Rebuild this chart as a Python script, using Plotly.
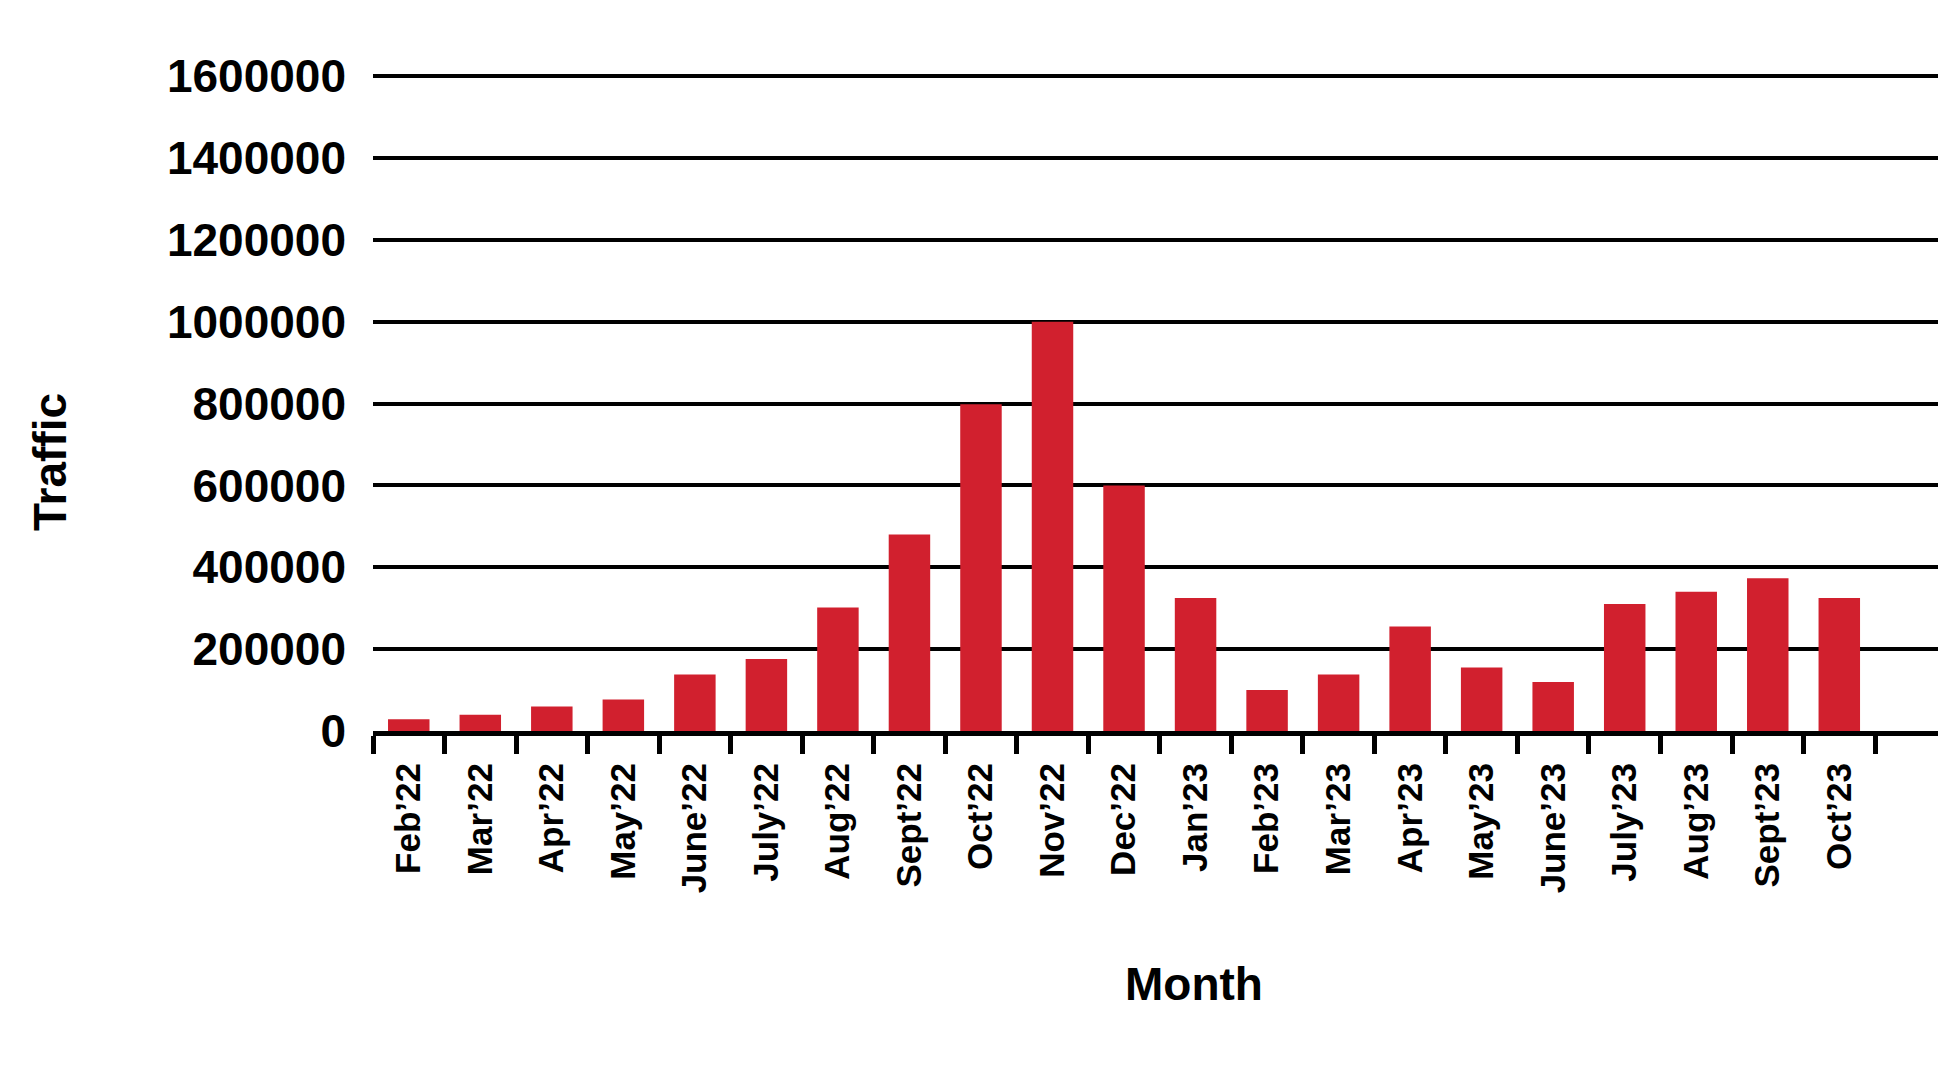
import plotly.graph_objects as go

# monthly traffic
months = ["Feb’22", "Mar’22", "Apr’22", "May’22", "June’22", "July’22", "Aug’22",
          "Sept’22", "Oct’22", "Nov’22", "Dec’22", "Jan’23", "Feb’23", "Mar’23",
          "Apr’23", "May’23", "June’23", "July’23", "Aug’23", "Sept’23", "Oct’23"]
traffic = [29000, 40000, 60000, 77000, 138000, 176000, 302000,
           480000, 798000, 1000000, 600000, 325000, 100000, 138000,
           255000, 155000, 120000, 310000, 340000, 373000, 325000]
y_ticks = [0, 200000, 400000, 600000, 800000, 1000000, 1200000, 1400000, 1600000]

font_family = "Liberation Sans, Arial, sans-serif"

fig = go.Figure(go.Bar(x=months, y=traffic, marker_color="#D1202E",
                       marker_line_width=0))

# page body has an 8px margin, so the figure is offset by 8px
fig.update_layout(
    width=1956, height=1073,
    plot_bgcolor="white", paper_bgcolor="white",
    margin=dict(l=365, r=26, t=64, b=350),
    bargap=0.42,
    showlegend=False,
    font=dict(family=font_family, color="black"),
)

fig.update_xaxes(
    type="category", range=[-0.5, 21.38],
    showgrid=False, zeroline=False,
    showline=True, linecolor="black", linewidth=5,
    ticks="outside", tickson="boundaries", ticklen=18, tickwidth=5, tickcolor="black",
    tickangle=-90, tickfont=dict(family=font_family, size=35, weight="bold"),
    ticklabelstandoff=13,
)
fig.update_yaxes(
    range=[0, 1610000], tickvals=y_ticks, ticktext=[str(v) for v in y_ticks],
    showgrid=True, gridcolor="black", gridwidth=4,
    zeroline=False, showline=False, ticks="",
    tickfont=dict(family=font_family, size=46, weight="bold"),
    ticklabelstandoff=26,
)

# axis titles, placed by page pixel position relative to the plot area
pw, ph = 1956 - 365 - 26, 1073 - 64 - 350
fig.add_annotation(text="Traffic", x=(50 - 373) / pw, y=(731 - 462) / ph,
                   xref="paper", yref="paper", showarrow=False, textangle=-90,
                   xanchor="center", yanchor="middle",
                   font=dict(family=font_family, size=46, weight="bold"))
fig.add_annotation(text="Month", x=(1194 - 373) / pw, y=(731 - 984) / ph,
                   xref="paper", yref="paper", showarrow=False,
                   xanchor="center", yanchor="middle",
                   font=dict(family=font_family, size=46, weight="bold"))

fig.write_html("out.html")
